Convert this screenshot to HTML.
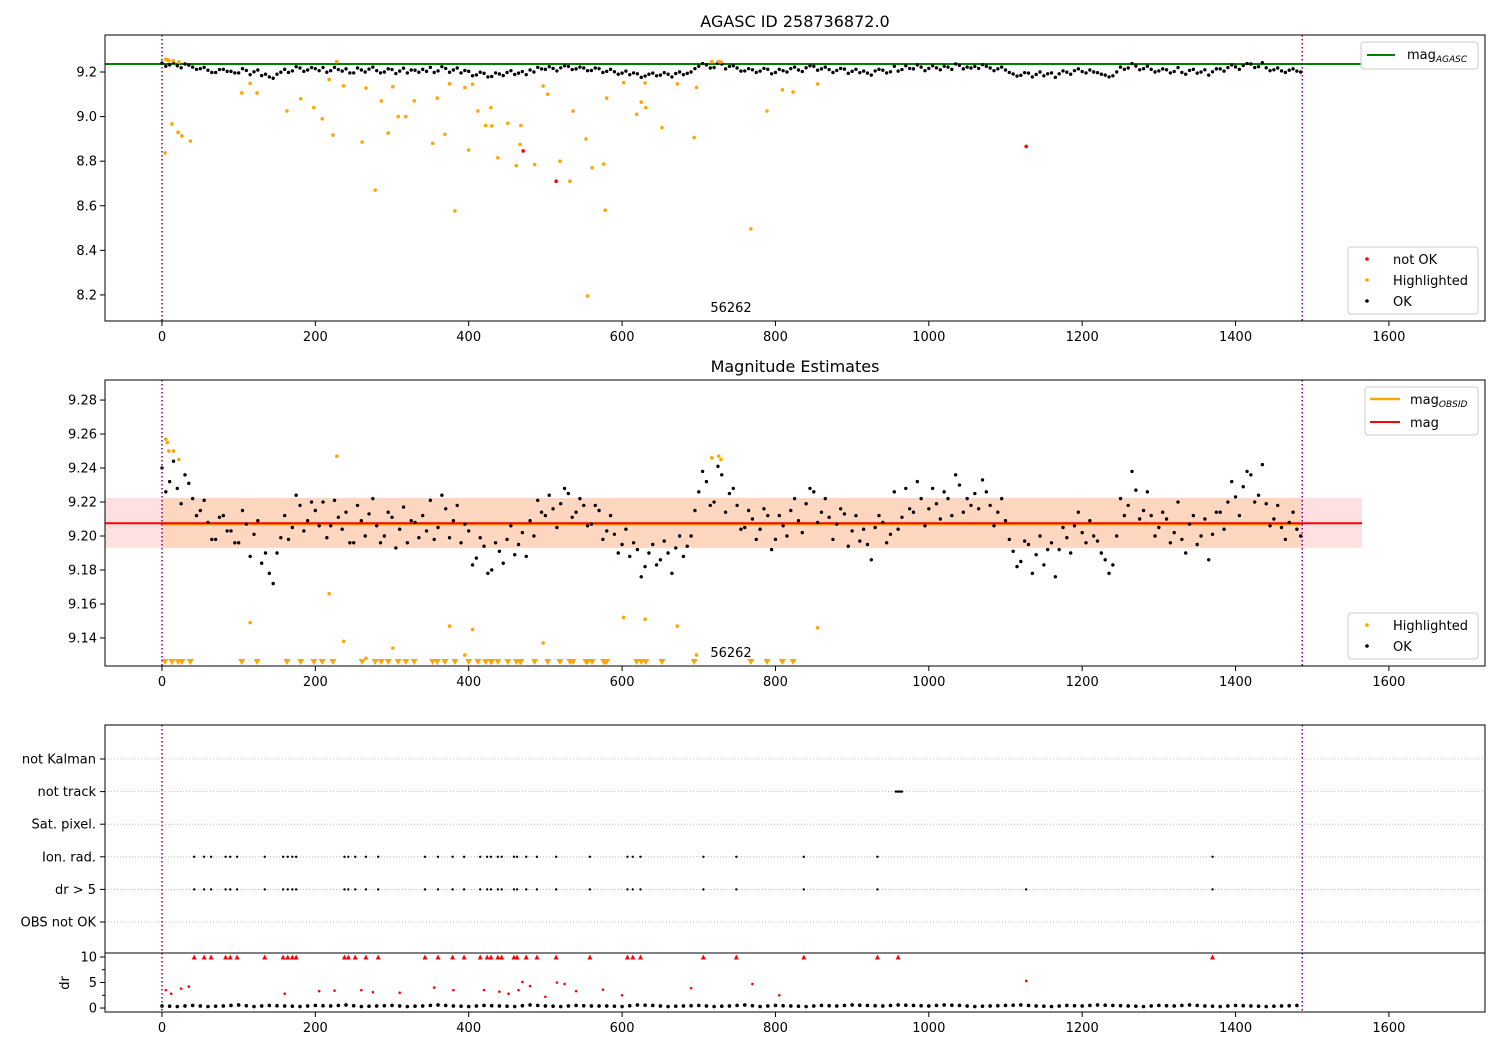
<!DOCTYPE html>
<html><head><meta charset="utf-8">
<style>
html,body{margin:0;padding:0;background:#fff;}
svg{display:block;font-family:"DejaVu Sans","Liberation Sans",sans-serif;}
</style></head>
<body>
<svg id="fig" width="1500" height="1050" viewBox="0 0 1500 1050" xmlns="http://www.w3.org/2000/svg">
<rect width="1500" height="1050" fill="#fff"/>
</svg>
<script>
// ---------- data ----------
const okStep = 10;
const okMag = [9.240,9.232,9.228,9.236,9.222,
9.215,9.208,9.198,9.212,9.203,9.196,9.207,9.201,
9.184,9.178,9.19,
9.212,9.205,9.218,9.209,9.215,
9.22,9.206,9.211,9.214,9.196,9.209,
9.213,9.206,9.200,9.211,9.204,9.196,9.208,
9.212,9.221,9.205,9.216,9.209,
9.196,9.203,9.187,9.194,9.18,9.191,9.198,9.189,9.202,
9.209,9.221,9.212,9.216,9.219,9.225,9.214,9.218,9.207,
9.215,9.203,9.201,9.195,
9.188,9.192,9.182,9.195,9.186,9.19,9.193,9.188,
9.2,9.226,9.232,9.22,9.236,9.225,9.218,9.205,
9.21,9.204,9.212,9.198,9.206,9.215,9.209,9.219,9.226,9.214,9.211,9.207,9.213,9.203,
9.197,9.195,9.205,9.208,9.201,9.204,
9.228,9.214,9.222,9.216,9.219,9.226,9.212,9.23,9.222,
9.225,9.233,9.218,9.214,9.209,
9.191,9.185,9.195,9.189,9.183,9.196,9.192,9.199,
9.206,9.202,9.209,9.197,9.186,9.183,
9.222,9.218,9.227,9.215,9.212,
9.205,9.21,9.202,9.198,9.207,9.195,9.21,9.201,
9.214,9.22,9.223,9.229,9.236,9.224,9.219,9.21,9.205,9.208,9.204];
const okMag2 = [9.226,9.244,9.219,9.231,9.212,
9.221,9.198,9.211,9.203,9.196,9.215,9.188,9.209,
9.19,9.172,9.199,
9.198,9.224,9.203,9.22,9.206,
9.199,9.221,9.204,9.196,9.218,9.2,
9.222,9.196,9.214,9.193,9.217,9.209,9.199,
9.203,9.198,9.224,9.199,9.218,
9.207,9.183,9.199,9.178,9.196,9.184,9.206,9.195,9.188,
9.2,9.214,9.224,9.205,9.228,9.211,9.222,9.206,9.218,
9.198,9.212,9.19,9.204,
9.196,9.176,9.19,9.183,9.197,9.178,9.2,9.194,
9.215,9.238,9.218,9.241,9.214,9.228,9.204,9.215,
9.198,9.216,9.192,9.212,9.2,9.222,9.202,9.228,9.208,9.222,9.198,9.216,9.194,9.212,
9.204,9.186,9.212,9.196,9.226,9.211,
9.216,9.232,9.206,9.228,9.21,9.222,9.236,9.214,9.218,
9.216,9.226,9.206,9.222,9.198,
9.182,9.197,9.178,9.2,9.192,9.176,9.205,9.19,
9.214,9.196,9.2,9.19,9.178,9.2,
9.212,9.238,9.21,9.226,9.2,
9.214,9.196,9.22,9.19,9.212,9.2,9.186,9.214,
9.204,9.232,9.212,9.238,9.22,9.242,9.206,9.218,9.198,9.214,9.2];
const hlX = [4,5,7,9,13,15,21,22,26,37,104,115,124,163,181,198,209,218,223,228,237,261,266,278,286,295,301,308,318,329,353,359,369,375,382,395,400,405,412,422,429,430,438,451,462,467,468,486,497,503,519,532,536,553,555,561,576,578,580,602,619,625,630,631,652,672,694,697,717,726,729,768,789,809,823,855];
const hlMag = [8.837,9.257,9.255,9.25,8.967,9.25,8.93,9.245,8.913,8.89,9.106,9.149,9.106,9.025,9.08,9.04,8.99,9.166,8.917,9.247,9.138,8.886,9.128,8.67,9.07,8.926,9.134,9.0,9.0,9.07,8.88,9.083,8.92,9.147,8.577,9.13,8.85,9.145,9.025,8.96,9.04,8.958,8.815,8.97,8.78,8.875,8.96,8.785,9.137,9.1,8.8,8.71,9.025,8.9,8.195,8.77,8.787,8.58,9.083,9.152,9.01,9.065,9.151,9.04,8.95,9.147,8.906,9.13,9.246,9.247,9.245,8.496,9.025,9.12,9.11,9.146];
const badX = [471,514,1127];
const badMag = [8.846,8.71,8.866];
const magAgasc = 9.236;
const magMean = 9.2075;
const magObsid = 9.207;
const magLo = 9.193, magHi = 9.2224;
const obsEnd = 1487;
const flagCats = ["OBS not OK","dr > 5","Ion. rad.","Sat. pixel.","not track","not Kalman"];
const ionX = [42,55,64,83,89,98,134,158,164,170,175,238,243,252,266,282,343,360,379,394,415,424,429,438,443,459,463,475,489,514,558,607,614,624,706,749,837,933,1370];
const dr5X = [42,55,64,83,89,98,134,158,164,170,175,238,243,252,266,282,343,360,379,394,415,424,429,438,443,459,463,475,489,514,558,607,614,624,706,749,837,933,1127,1370];
const trackX = [957,959,961,963,965];
const drStep = 20;
const drOk = [0.4,0.3,0.5,0.3,0.4,0.6,0.3,0.5,0.4,0.3,0.5,0.4,0.6,0.3,0.4,0.5,0.3,0.4,0.6,0.4,0.3,0.5,0.4,0.3,0.6,0.4,0.3,0.5,0.4,0.4,0.3,0.6,0.5,0.3,0.4,0.5,0.3,0.4,0.6,0.3,0.5,0.4,0.3,0.5,0.4,0.6,0.5,0.4,0.6,0.5,0.4,0.6,0.5,0.3,0.4,0.5,0.6,0.4,0.3,0.5,0.4,0.6,0.5,0.4,0.3,0.5,0.4,0.6,0.4,0.3,0.5,0.4,0.3,0.4,0.5];
const drBadX = [5,12,25,35,160,205,225,260,275,310,355,380,420,440,452,465,470,480,500,515,525,540,575,600,690,770,805,1127];
const drBadV = [3.5,2.8,3.8,4.2,2.8,3.3,3.4,3.5,3.1,3.0,4.0,3.5,3.5,3.2,2.8,3.5,5.1,4.3,2.2,5.0,4.7,3.3,3.6,2.5,3.9,4.7,2.5,5.3];
const xTicks = [0,200,400,600,800,1000,1200,1400,1600];
const topTicks = [8.2,8.4,8.6,8.8,9.0,9.2];
const midTicks = [9.14,9.16,9.18,9.2,9.22,9.24,9.26,9.28];
const drTicks = [0,5,10];

// ---------- helpers ----------
const NS="http://www.w3.org/2000/svg";
const svg=document.getElementById('fig');
function mk(tag,attrs,parent){const e=document.createElementNS(NS,tag);for(const k in attrs)e.setAttribute(k,attrs[k]);(parent||svg).appendChild(e);return e;}
const L=105,R=1485;
const X0=-74.3,X1=1725.3;
const sx=x=>L+(x-X0)/(X1-X0)*(R-L);
function yScale(v0,v1,top,bot){return v=>bot-(v-v0)/(v1-v0)*(bot-top);}
const yTop=yScale(8.083,9.366,35,321);
const yMid=yScale(9.1235,9.2918,380,666);
const yFlag=i=>922-i*32.6;
const yDr=yScale(-0.78,10.78,953,1012);

function xAxis(bot,name){
  const g=mk('g',{});
  
  
  xTicks.forEach(t=>{
    mk('line',{x1:sx(t),x2:sx(t),y1:bot,y2:bot+5,stroke:'#000','stroke-width':1},g);
    const tx=mk('text',{x:sx(t),y:bot+20,'font-size':13,'text-anchor':'middle'},g);tx.textContent=t;
  });
}
function yAxisTicks(ticks,ys,fmt,name){
  const g=mk('g',{});
  
  
  ticks.forEach(t=>{
    mk('line',{x1:L-5,x2:L,y1:ys(t),y2:ys(t),stroke:'#000','stroke-width':1},g);
    const tx=mk('text',{x:L-8,y:ys(t)+4.5,'font-size':13,'text-anchor':'end'},g);tx.textContent=fmt(t);
  });
}
function frame(top,bot,name){
  const r=mk('rect',{x:L,y:top,width:R-L,height:bot-top,fill:'none',stroke:'#000','stroke-width':1});
  
  
}
function vlines(top,bot){
  [0,obsEnd].forEach(v=>{const l=mk('line',{x1:sx(v),x2:sx(v),y1:top,y2:bot,stroke:'#800080','stroke-width':1.5,'stroke-dasharray':'1.5,2.5'});
  
  });
}
function title(txt,y,name){const t=mk('text',{x:795,y:y,'font-size':16,'text-anchor':'middle'});t.textContent=txt;
  
  }
function legendBox(x,y,w,h,name){const g=mk('g',{});
  
  
  mk('rect',{x:x,y:y,width:w,height:h,rx:3,fill:'#fff','fill-opacity':0.85,stroke:'#ccc'},g);return g;}
function okPoints(g,ys){
  okMag.forEach((v,i)=>{const c=mk('circle',{cx:sx(i*okStep),cy:ys(v),r:1.7,fill:'#000'},g);
    
    });
  okMag2.forEach((v,i)=>{const c=mk('circle',{cx:sx(i*okStep+okStep/2),cy:ys(v),r:1.7,fill:'#000'},g);
    
    });
}

// ---------- top panel ----------
title('AGASC ID 258736872.0',27,'top-title');
(function(){
  const g=mk('g',{});
  
  
  const ln=mk('line',{x1:L,x2:sx(1565),y1:yTop(magAgasc),y2:yTop(magAgasc),stroke:'#008000','stroke-width':2},g);
  
  
  okPoints(g,yTop);
  hlX.forEach((x,i)=>{const c=mk('circle',{cx:sx(x),cy:yTop(hlMag[i]),r:1.8,fill:'#ffa500'},g);
    
    });
  badX.forEach((x,i)=>{const c=mk('circle',{cx:sx(x),cy:yTop(badMag[i]),r:1.8,fill:'#ff0000'},g);
    
    });
})();
vlines(35,321);
frame(35,321,'top-axes-frame');
xAxis(321,'top-x-axis');
yAxisTicks(topTicks,yTop,t=>t.toFixed(1),'top-y-axis');
(function(){const t=mk('text',{x:731,y:312,'font-size':13,'text-anchor':'middle'});t.textContent='56262';
 
 })();
(function(){const g=legendBox(1361,42,117,27,'top-line-legend');
  mk('line',{x1:1367,x2:1395,y1:55,y2:55,stroke:'#008000','stroke-width':2},g);
  const t=mk('text',{x:1407,y:59,'font-size':13},g);t.innerHTML='mag<tspan font-size="9" font-style="italic" dy="3">AGASC</tspan>';
  const g2=legendBox(1348,247,130,67,'top-points-legend');
  [['not OK','#ff0000',259],['Highlighted','#ffa500',280],['OK','#000',301]].forEach(e=>{
    mk('circle',{cx:1367,cy:e[2],r:1.8,fill:e[1]},g2);
    const tx=mk('text',{x:1393,y:e[2]+5,'font-size':13},g2);tx.textContent=e[0];});
})();

// ---------- middle panel ----------
title('Magnitude Estimates',372,'middle-title');
(function(){
  const g=mk('g',{});
  
  
  const band=mk('rect',{x:L,y:yMid(magHi),width:sx(1565)-L,height:yMid(magLo)-yMid(magHi),fill:'#ff0000','fill-opacity':0.12},g);
  
  
  const band2=mk('rect',{x:sx(0),y:yMid(magHi),width:sx(obsEnd)-sx(0),height:yMid(magLo)-yMid(magHi),fill:'#ffa500','fill-opacity':0.14},g);
  
  
  const lo=mk('line',{x1:sx(0),x2:sx(obsEnd),y1:yMid(magObsid),y2:yMid(magObsid),stroke:'#ffa500','stroke-width':2.5},g);
  
  
  const lr=mk('line',{x1:L,x2:sx(1565),y1:yMid(magMean),y2:yMid(magMean),stroke:'#ff0000','stroke-width':2},g);
  
  
  okPoints(g,yMid);
  hlX.forEach((x,i)=>{const v=hlMag[i];
    if(v<9.1235){const cx=sx(x),cy=663;
      const p=mk('path',{d:`M${cx-3.5},${cy-4}L${cx+3.5},${cy-4}L${cx},${cy+2}Z`,fill:'#ffa500'},g);
      
      
    } else {const c=mk('circle',{cx:sx(x),cy:yMid(v),r:1.8,fill:'#ffa500'},g);
      
      }
  });
})();
vlines(380,666);
frame(380,666,'middle-axes-frame');
xAxis(666,'middle-x-axis');
yAxisTicks(midTicks,yMid,t=>t.toFixed(2),'middle-y-axis');
(function(){const t=mk('text',{x:731,y:657,'font-size':13,'text-anchor':'middle'});t.textContent='56262';
 
 })();
(function(){const g=legendBox(1365,387,113,48,'middle-line-legend');
  mk('line',{x1:1370,x2:1400,y1:399,y2:399,stroke:'#ffa500','stroke-width':2.5},g);
  const t=mk('text',{x:1410,y:404,'font-size':13},g);t.innerHTML='mag<tspan font-size="9" font-style="italic" dy="3">OBSID</tspan>';
  mk('line',{x1:1370,x2:1400,y1:422,y2:422,stroke:'#ff0000','stroke-width':2},g);
  const t2=mk('text',{x:1410,y:427,'font-size':13},g);t2.textContent='mag';
  const g2=legendBox(1348,613,130,46,'middle-points-legend');
  [['Highlighted','#ffa500',625],['OK','#000',646]].forEach(e=>{
    mk('circle',{cx:1367,cy:e[2],r:1.8,fill:e[1]},g2);
    const tx=mk('text',{x:1393,y:e[2]+5,'font-size':13},g2);tx.textContent=e[0];});
})();

// ---------- bottom panel ----------
(function(){
  const g=mk('g',{});
  
  
  flagCats.forEach((c,i)=>{
    mk('line',{x1:L,x2:R,y1:yFlag(i),y2:yFlag(i),stroke:'#b0b0b0','stroke-width':0.8,'stroke-dasharray':'1,2'},g);
    mk('line',{x1:L-5,x2:L,y1:yFlag(i),y2:yFlag(i),stroke:'#000'},g);
    const t=mk('text',{x:L-9,y:yFlag(i)+4.5,'font-size':13,'text-anchor':'end'},g);t.textContent=c;
    
    
  });
  ionX.forEach(x=>{const c=mk('circle',{cx:sx(x),cy:yFlag(2),r:1.2,fill:'#000'},g);
    
    });
  dr5X.forEach(x=>{const c=mk('circle',{cx:sx(x),cy:yFlag(1),r:1.2,fill:'#000'},g);
    
    });
  trackX.forEach(x=>{const c=mk('circle',{cx:sx(x),cy:yFlag(4),r:1.2,fill:'#000'},g);
    
    });
})();
vlines(725,1012);
frame(725,953,'flags-axes-frame');
(function(){
  const g=mk('g',{});
  
  
  drOk.forEach((v,i)=>{const c=mk('circle',{cx:sx(i*drStep),cy:yDr(v),r:1.8,fill:'#000'},g);
    
    });
  drOk.forEach((v,i)=>{if(i<drOk.length-1){const c=mk('circle',{cx:sx(i*drStep+drStep/2),cy:yDr((v+drOk[i+1])/2),r:1.8,fill:'#000'},g);
    
    }});
  drBadX.forEach((x,i)=>{const c=mk('circle',{cx:sx(x),cy:yDr(drBadV[i]),r:1.3,fill:'#ff0000'},g);
    
    });
  ionX.concat([960]).forEach(x=>{const cx=sx(x),cy=yDr(10);
    const p=mk('path',{d:`M${cx-2.5},${cy+2.5}L${cx+2.5},${cy+2.5}L${cx},${cy-2.5}Z`,fill:'#ff0000'},g);
    
    });
})();
frame(953,1012,'dr-axes-frame');
yAxisTicks(drTicks,yDr,t=>t,'dr-y-axis');
[2.5,7.5].forEach(t=>mk('line',{x1:L-3,x2:L,y1:yDr(t),y2:yDr(t),stroke:'#000'}));
(function(){const t=mk('text',{x:0,y:0,'font-size':13,'text-anchor':'middle',transform:'translate(69,983) rotate(-90)'});t.textContent='dr';
 
 })();
xAxis(1012,'bottom-x-axis');
</script>
</body></html>
